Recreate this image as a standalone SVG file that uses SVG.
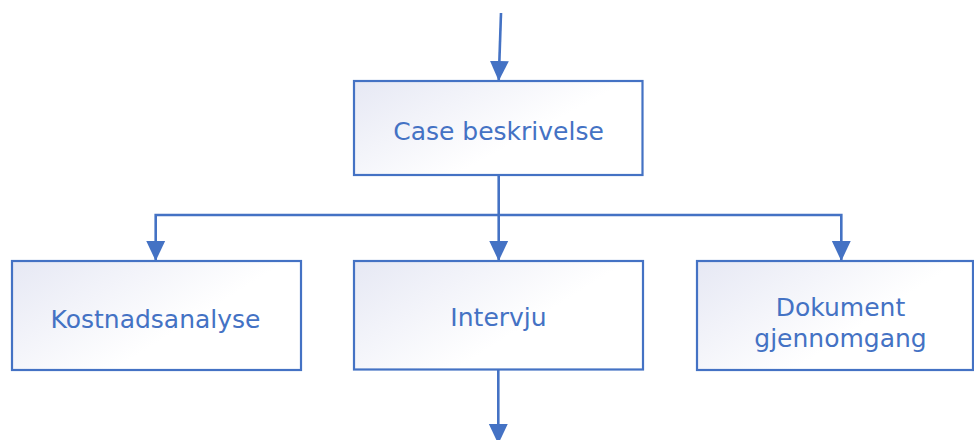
<svg xmlns="http://www.w3.org/2000/svg" width="974" height="440" viewBox="0 0 974 440">
  <style>
    .box { stroke: #4472C4; stroke-width: 2.2; fill: url(#boxGrad); }
    .lbl { font-family: "DejaVu Sans", Verdana, sans-serif; font-size: 25px; fill: #4472C4; text-anchor: middle; }
    .conn { stroke: #4472C4; stroke-width: 2.6; fill: none; stroke-linejoin: miter; }
  </style>
  <defs>
    <linearGradient id="boxGrad" x1="0" y1="0" x2="1" y2="0.6">
      <stop offset="0" stop-color="#E6E8F4"/>
      <stop offset="0.7" stop-color="#FFFFFF"/>
      <stop offset="1" stop-color="#FFFFFF"/>
    </linearGradient>
    <marker id="arrow" markerUnits="userSpaceOnUse" markerWidth="20" markerHeight="20" viewBox="0 0 18 18" refX="18" refY="9" orient="auto">
      <path d="M0,0.5 L18,9 L0,17.5 Z" fill="#4472C4"/>
    </marker>
  </defs>

  <g id="connectors">
    <line class="conn" x1="501" y1="13" x2="498.7" y2="81" marker-end="url(#arrow)"/>
    <line class="conn" x1="498.7" y1="175" x2="498.7" y2="261" marker-end="url(#arrow)"/>
    <path class="conn" d="M498.7,215 H155.7 V261" marker-end="url(#arrow)"/>
    <path class="conn" d="M498.7,215 H841.3 V261" marker-end="url(#arrow)"/>
    <line class="conn" x1="498.3" y1="370" x2="498.3" y2="444" marker-end="url(#arrow)"/>
  </g>

  <g id="case-beskrivelse">
    <rect class="box" x="354" y="81" width="288.5" height="94"/>
    <text class="lbl" x="498.5" y="140">Case beskrivelse</text>
  </g>

  <g id="kostnadsanalyse">
    <rect class="box" x="12" y="261" width="289" height="109"/>
    <text class="lbl" x="155.5" y="328">Kostnadsanalyse</text>
  </g>

  <g id="intervju">
    <rect class="box" x="354" y="261" width="289" height="108.5"/>
    <text class="lbl" x="498.5" y="326">Intervju</text>
  </g>

  <g id="dokument-gjennomgang">
    <rect class="box" x="697" y="261" width="276" height="109"/>
    <text class="lbl" x="840.5" y="316">Dokument</text>
    <text class="lbl" x="840.5" y="346.5">gjennomgang</text>
  </g>
</svg>
